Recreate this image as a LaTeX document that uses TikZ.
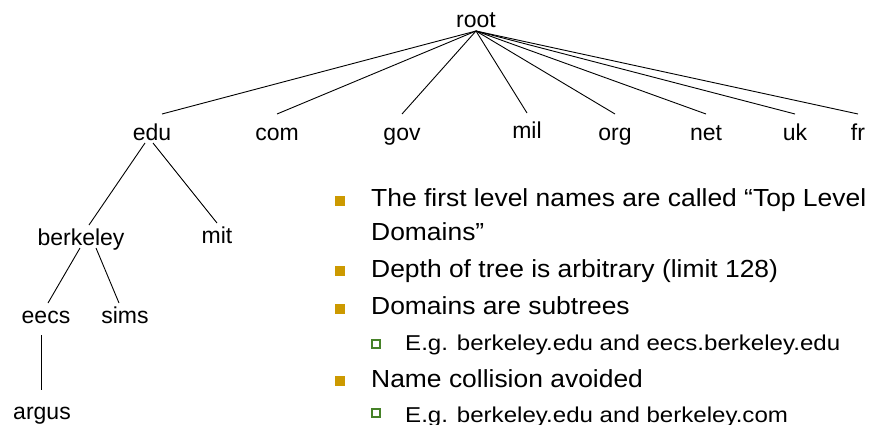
\documentclass[tikz,border=0pt]{standalone}
\usepackage{fontspec}
\setmainfont{Liberation Sans}
\newfontfamily\bodyfont[FakeStretch=1.07]{Liberation Sans}
\newfontfamily\subfont[FakeStretch=1.12]{Liberation Sans}
\definecolor{bulletgold}{RGB}{204,153,0}
\definecolor{subgreen}{RGB}{70,130,40}

\begin{document}
\begin{tikzpicture}[x=1pt,y=-1pt,
  tlabel/.style={font=\fontsize{23}{27}\selectfont, inner sep=0pt, outer sep=3pt,
                 text height=17pt, text depth=0pt, anchor=base},
  edge/.style={line width=0.9pt, black},
  mainitem/.style={font=\bodyfont\fontsize{24.7}{29}\selectfont, inner sep=0pt, anchor=base west},
  subitem/.style={font=\subfont\fontsize{21.5}{25}\selectfont, inner sep=0pt, anchor=base west},
  mainbullet/.style={fill=bulletgold, minimum size=10pt, inner sep=0pt},
  subbullet/.style={draw=subgreen, line width=1.4pt, fill=white, minimum size=8pt, inner sep=0pt}]

\useasboundingbox (0,0) rectangle (872,425);

% --- domain name tree ---
\node[tlabel] (root) at (476,28) {root};

\node[tlabel] (edu) at (152,140) {edu};
\node[tlabel] (com) at (277,140) {com};
\node[tlabel] (gov) at (402,140) {gov};
\node[tlabel] (mil) at (527,139) {mil};
\node[tlabel] (org) at (615,140) {org};
\node[tlabel] (net) at (706,140) {net};
\node[tlabel] (uk)  at (795,140) {uk};
\node[tlabel] (fr)  at (858,140) {fr};

\node[tlabel] (berkeley) at (81,245)  {berkeley};
\node[tlabel] (mit)      at (217,243) {mit};
\node[tlabel] (eecs)     at (46,323)  {eecs};
\node[tlabel] (sims)     at (125,323) {sims};
\node[tlabel] (argus)    at (42,419)  {argus};

\draw[edge] (root.south) -- ([xshift=10pt,yshift=6pt]edu.north);
\foreach \tld in {com,gov,mil,org,net,uk,fr}
  \draw[edge] (root.south) -- ([yshift=6pt]\tld.north);

\draw[edge] ([xshift=-7pt]edu.south) -- ([xshift=8pt]berkeley.north);
\draw[edge] ([xshift=1pt]edu.south) -- (mit.north);
\draw[edge] ([xshift=-1pt]berkeley.south) -- ([xshift=2pt]eecs.north);
\draw[edge] ([xshift=15pt]berkeley.south) -- ([xshift=-6pt]sims.north);
\draw[edge] ([xshift=-5pt,yshift=-9pt]eecs.south) -- ([xshift=-1pt,yshift=9pt]argus.north);

% --- bullet list ---
\node[mainbullet] (b1) at (340,201) {};
\node[mainitem] (t1a) at (371,206.7) {The first level names are called “Top Level};
\node[mainitem] (t1b) at (371,240) {Domains”};

\node[mainbullet] (b2) at (340,271) {};
\node[mainitem] (t2) at (371,277) {Depth of tree is arbitrary (limit 128)};

\node[mainbullet] (b3) at (340,309) {};
\node[mainitem] (t3) at (371,314) {Domains are subtrees};

\node[subbullet] (s1) at (376,344) {};
\node[subitem] (u1) at (405,350.3) {E.g. berkeley.edu and eecs.berkeley.edu};

\node[mainbullet] (b4) at (340,381) {};
\node[mainitem] (t4) at (371,387) {Name collision avoided};

\node[subbullet] (s2) at (376,413) {};
\node[subitem] (u2) at (405,422) {E.g. berkeley.edu and berkeley.com};

\end{tikzpicture}
\end{document}
